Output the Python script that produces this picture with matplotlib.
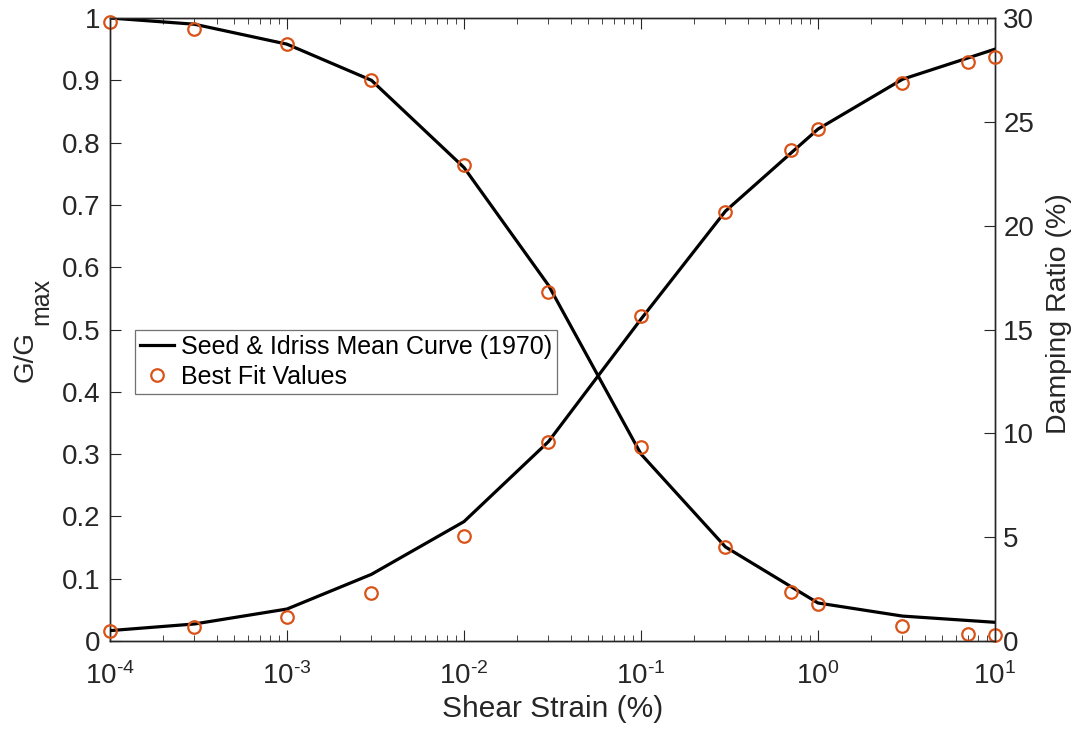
import matplotlib
matplotlib.use("Agg")
import matplotlib.pyplot as plt
from matplotlib.ticker import LogLocator, NullFormatter, FixedLocator, FixedFormatter

plt.rcParams['font.family'] = ['Liberation Sans', 'DejaVu Sans']
plt.rcParams['mathtext.fontset'] = 'custom'
plt.rcParams['mathtext.rm'] = 'Liberation Sans'
plt.rcParams['mathtext.it'] = 'Liberation Sans'

# Seed & Idriss mean curve
curve_strain = [1e-4, 3e-4, 1e-3, 3e-3, 1e-2, 3e-2, 1e-1, 3e-1, 1, 3, 10]
curve_ggmax = [1.0, 0.99, 0.958, 0.90, 0.76, 0.571, 0.30, 0.151, 0.061, 0.040, 0.030]
curve_damping = [0.50, 0.82, 1.54, 3.21, 5.75, 9.6, 15.5, 20.7, 24.65, 27.05, 28.5]

# Best fit values
fit_strain = [1e-4, 3e-4, 1e-3, 3e-3, 1e-2, 3e-2, 1e-1, 3e-1, 0.7, 1, 3, 7, 10]
fit_ggmax = [0.993, 0.983, 0.959, 0.901, 0.764, 0.560, 0.311, 0.151, 0.079, 0.059, 0.024, 0.012, 0.009]
fit_damping = [0.48, 0.66, 1.17, 2.30, 5.06, 9.58, 15.65, 20.66, 23.64, 24.65, 26.86, 27.87, 28.14]

x_ticks = [1e-4, 1e-3, 1e-2, 1e-1, 1, 10]
x_ticklabels = [r'$\mathregular{10^{\text{-}4}}$', r'$\mathregular{10^{\text{-}3}}$',
                r'$\mathregular{10^{\text{-}2}}$', r'$\mathregular{10^{\text{-}1}}$',
                r'$\mathregular{10^{0}}$', r'$\mathregular{10^{1}}$']
left_ticks = [i / 10 for i in range(11)]
left_ticklabels = ['0', '0.1', '0.2', '0.3', '0.4', '0.5', '0.6', '0.7', '0.8', '0.9', '1']
right_ticks = [0, 5, 10, 15, 20, 25, 30]

line_color = 'black'
marker_color = '#D95319'
axis_color = '#262626'

fig = plt.figure(figsize=(10.8, 7.31), dpi=100)
ax = fig.add_axes([110/1080, 1-641/731, 885/1080, 623/731])
ax2 = ax.twinx()

l1, = ax.plot(curve_strain, curve_ggmax, color=line_color, lw=2.3, zorder=3)
m1, = ax.plot(fit_strain, fit_ggmax, 'o', mfc='none', mec=marker_color, ms=9, mew=1.6,
              zorder=4, clip_on=False)
ax2.plot(curve_strain, curve_damping, color=line_color, lw=2.3, zorder=3)
ax2.plot(fit_strain, fit_damping, 'o', mfc='none', mec=marker_color, ms=9, mew=1.6,
         zorder=4, clip_on=False)

ax.set_xscale('log')
ax.set_xlim(1e-4, 10)
ax.set_ylim(0, 1)
ax2.set_ylim(0, 30)

ax.set_yticks(left_ticks)
ax.set_yticklabels(left_ticklabels)
ax2.set_yticks(right_ticks)

ax.xaxis.set_major_locator(FixedLocator(x_ticks))
ax.xaxis.set_major_formatter(FixedFormatter(x_ticklabels))
ax.xaxis.set_minor_locator(LogLocator(base=10, subs=range(2, 10), numticks=20))
ax.xaxis.set_minor_formatter(NullFormatter())

for a in (ax, ax2):
    for s in a.spines.values():
        s.set_color(axis_color)
        s.set_linewidth(1.0)

ax.tick_params(axis='x', which='both', direction='in', top=True, bottom=True,
               colors=axis_color, labelsize=20, pad=15)
ax.tick_params(axis='x', which='major', length=8)
ax.tick_params(axis='x', which='minor', length=4.5)
ax.tick_params(axis='y', direction='in', left=True, right=False, length=8,
               colors=axis_color, labelsize=20, pad=7)
ax2.tick_params(axis='y', direction='in', right=True, left=False, length=8,
                colors=axis_color, labelsize=20, pad=6)

ax.set_xlabel('Shear Strain (%)', fontsize=21.5, color='#262626', labelpad=4)
ax2.set_ylabel('Damping Ratio (%)', fontsize=20.5, color='#262626', labelpad=10)
ax2.yaxis.set_label_coords(1.058, 0.526)

# Left label G/Gmax with a large subscript (as in the reference)
fig.text(26/1080, 1 - 357/731, 'G/G', rotation=90, ha='center', va='center',
         fontsize=20, color='#262626')
fig.text(41/1080, 1 - 301/731, 'max', rotation=90, ha='center', va='center',
         fontsize=18, color='#262626')

leg = ax2.legend([l1, m1], ['Seed & Idriss Mean Curve (1970)', 'Best Fit Values'],
                 loc='upper left', bbox_to_anchor=(0.028, 0.50), borderaxespad=0,
                 fontsize=18, frameon=True, fancybox=False, handlelength=1.35,
                 handletextpad=0.3, borderpad=0.2, labelspacing=0.25)
leg.get_frame().set_edgecolor('#4d4d4d')
leg.get_frame().set_linewidth(0.9)

fig.savefig('out.png', dpi=100)
